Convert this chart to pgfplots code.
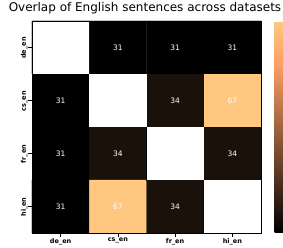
\documentclass[border=0pt]{standalone}
\usepackage{fontspec}
\setmainfont{DejaVu Sans}
\usepackage{pgfplots}
\pgfplotsset{compat=1.18}
\begin{document}
\begin{tikzpicture}
\begin{axis}[
  name=main, at={(0,0)}, anchor=south west,
  scale only axis, width=229pt, height=212pt,
  xmin=-0.5, xmax=3.5, ymin=-0.5, ymax=3.5,
  y dir=reverse,
  enlargelimits=false,
  axis on top,
  axis line style={black, line width=0.6pt},
  xtick={0,1,2,3}, ytick={0,1,2,3},
  xticklabels={de\_en,cs\_en,fr\_en,hi\_en},
  yticklabels={de\_en,cs\_en,fr\_en,hi\_en},
  xtick pos=bottom, ytick pos=left,
  tick align=outside,
  major tick length=3.5pt,
  tick style={black, line width=0.6pt},
  xticklabel style={font=\fontsize{6.5}{7}\selectfont\bfseries, inner sep=1pt, yshift=-0.5pt},
  yticklabel style={font=\fontsize{6.5}{7}\selectfont\bfseries, rotate=90, anchor=south, inner sep=1pt, xshift=-0.5pt},
  title={Overlap of English sentences across datasets},
  title style={font=\fontsize{12}{14}\selectfont, inner sep=1pt, xshift=-1.5pt},
  colormap={copper}{rgb(0cm)=(0,0,0) rgb(8cm)=(1,0.625,0.398) rgb(10cm)=(1,0.78125,0.4975)},
  point meta min=31, point meta max=67,
  colorbar,
  colorbar style={at={(parent axis.north east)}, anchor=north west, xshift=5pt,
    scale only axis, width=12pt, ytick=\empty, axis line style={draw=none}},
]
\addplot[matrix plot, mesh/cols=4, mesh/ordering=x varies, point meta=explicit, line width=0.3pt] table[meta=c] {
x y c
0 0 31
1 0 31
2 0 31
3 0 31
0 1 31
1 1 31
2 1 34
3 1 67
0 2 31
1 2 34
2 2 31
3 2 34
0 3 31
1 3 67
2 3 34
3 3 31
};
\addplot[fill=white, draw=none] coordinates {(-0.5,-0.5) (0.5,-0.5) (0.5,0.5) (-0.5,0.5)} -- cycle;
\addplot[fill=white, draw=none] coordinates {(0.5,0.5) (1.5,0.5) (1.5,1.5) (0.5,1.5)} -- cycle;
\addplot[fill=white, draw=none] coordinates {(1.5,1.5) (2.5,1.5) (2.5,2.5) (1.5,2.5)} -- cycle;
\addplot[fill=white, draw=none] coordinates {(2.5,2.5) (3.5,2.5) (3.5,3.5) (2.5,3.5)} -- cycle;
\addplot[draw=none, mark=none, nodes near coords, point meta=explicit symbolic,
  nodes near coords align=center,
  nodes near coords style={anchor=center, text=white, font=\fontsize{7.5}{8}\selectfont}] table[meta=v] {
x y v
1 0 31
2 0 31
3 0 31
0 1 31
2 1 34
3 1 67
0 2 31
1 2 34
3 2 34
0 3 31
1 3 67
2 3 34
};
\end{axis}
\pgfresetboundingbox
\path[use as bounding box] (-32pt,-15pt) rectangle (251pt,233pt);
\end{tikzpicture}
\end{document}
